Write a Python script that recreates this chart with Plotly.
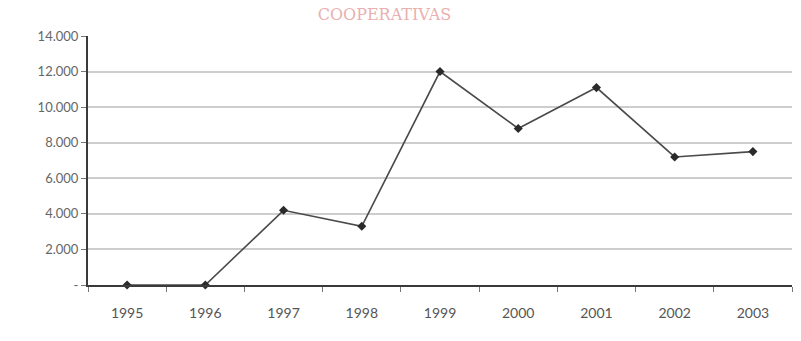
import plotly.graph_objects as go

# Cooperativas por año
years = ["1995", "1996", "1997", "1998", "1999", "2000", "2001", "2002", "2003"]
cooperativas = [0, 0, 4200, 3300, 12000, 8800, 11100, 7200, 7500]

y_tick_values = [0, 2000, 4000, 6000, 8000, 10000, 12000, 14000]
y_tick_labels = ["-", "2.000", "4.000", "6.000", "8.000", "10.000", "12.000", "14.000"]

fig = go.Figure()
fig.add_trace(go.Scatter(
    x=years,
    y=cooperativas,
    mode="lines+markers",
    line=dict(color="#4a4a4a", width=1.6),
    marker=dict(symbol="diamond", size=7, color="#2a2a2a"),
    cliponaxis=False,
    showlegend=False,
))

fig.update_layout(
    width=801,
    height=341,
    margin=dict(l=88, r=9, t=36, b=56),
    paper_bgcolor="white",
    plot_bgcolor="white",
    title=dict(
        text="COOPERATIVAS",
        x=0.48, xanchor="center",
        y=0.975, yanchor="top",
        font=dict(family="DejaVu Serif", size=16, color="#eab0b0"),
    ),
    xaxis=dict(
        type="category",
        range=[-0.5, 8.5],
        showgrid=False,
        showline=True,
        linecolor="#3a3a3a",
        linewidth=2,
        ticks="outside",
        tickson="boundaries",
        ticklen=5,
        tickcolor="#777",
        tickfont=dict(family="Lato", size=14, color="#555"),
        ticklabelstandoff=14,
    ),
    yaxis=dict(
        range=[0, 14000],
        tickmode="array",
        tickvals=y_tick_values,
        ticktext=y_tick_labels,
        showgrid=True,
        gridcolor="#cdcdcd",
        gridwidth=2,
        zeroline=False,
        showline=True,
        linecolor="#3a3a3a",
        linewidth=2,
        ticks="outside",
        ticklen=5,
        tickcolor="#777",
        tickfont=dict(family="Lato", size=13, color="#666"),
    ),
)

fig.write_html("out.html")
